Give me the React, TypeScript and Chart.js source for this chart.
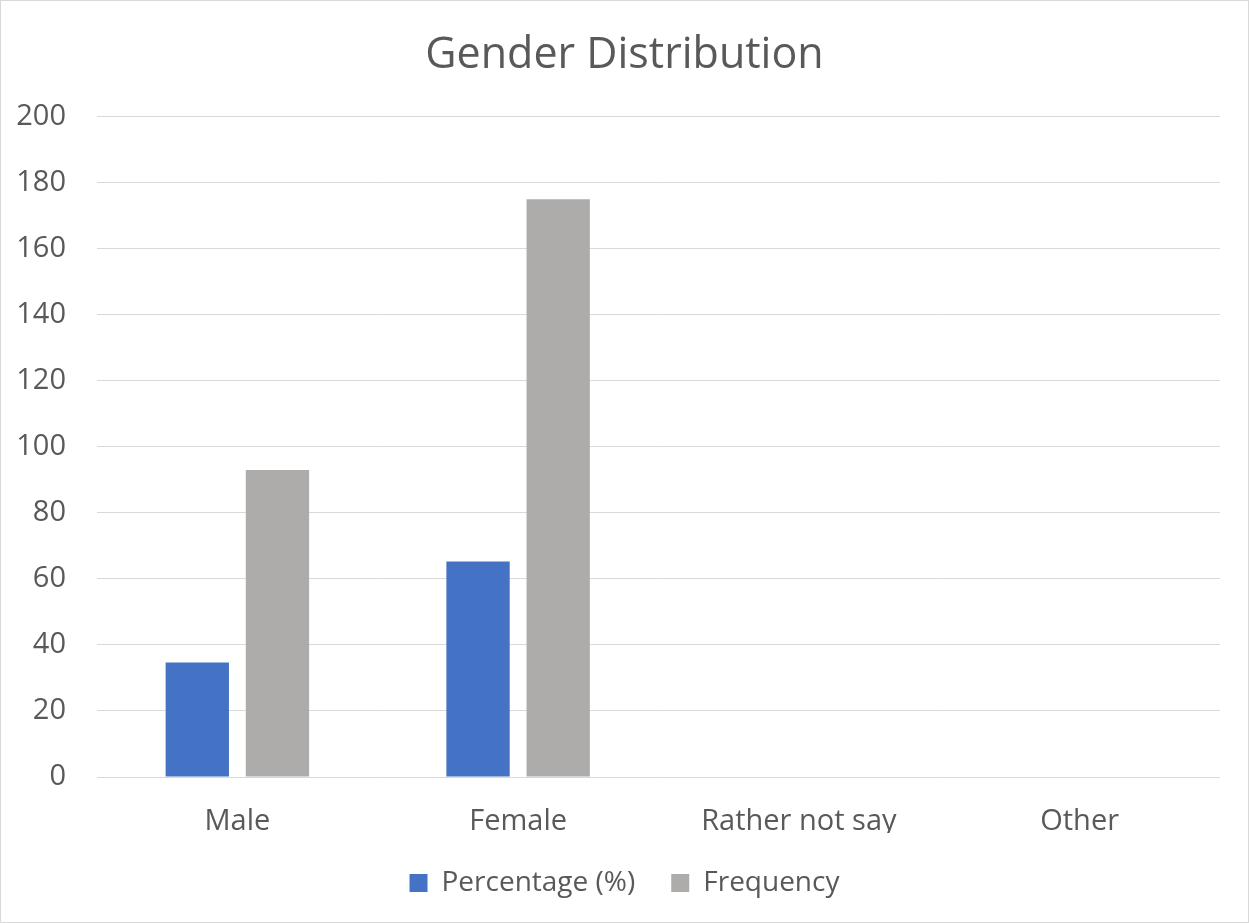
import React, { useEffect, useRef } from "react";
import { Chart, registerables } from "chart.js";

Chart.register(...registerables);

const categories = ["Male", "Female", "Rather not say", "Other"];
const percentageValues = [34.7, 65.3, 0, 0];
const frequencyValues = [93, 175, 0, 0];
const yTicks = [0, 20, 40, 60, 80, 100, 120, 140, 160, 180, 200];

const TEXT = "#595959";
const GRID = "#d9d9d9";
const FONT = "'Open Sans', 'Noto Sans', sans-serif";

export default function App() {
  const canvasRef = useRef<HTMLCanvasElement | null>(null);

  useEffect(() => {
    document.body.style.margin = "0";
    const canvas = canvasRef.current;
    if (!canvas) return;
    const chart = new Chart(canvas, {
      type: "bar",
      data: {
        labels: categories,
        datasets: [
          {
            label: "Percentage (%)",
            data: percentageValues,
            backgroundColor: "#4472c4",
            categoryPercentage: 0.571,
            barPercentage: 0.79,
          },
          {
            label: "Frequency",
            data: frequencyValues,
            backgroundColor: "#aeabab",
            categoryPercentage: 0.571,
            barPercentage: 0.79,
          },
        ],
      },
      options: {
        responsive: false,
        animation: false,
        layout: { padding: { left: 0, right: 0, top: 0, bottom: 15 } },
        plugins: {
          title: {
            display: true,
            text: "Gender Distribution",
            color: TEXT,
            font: { family: FONT, size: 43, weight: "normal" },
            padding: { top: 29, bottom: 35 },
          },
          legend: {
            position: "bottom",
            labels: {
              color: TEXT,
              font: { family: FONT, size: 28 },
              boxWidth: 18,
              boxHeight: 18,
              padding: 36,
            },
          },
          tooltip: { enabled: false },
        },
        scales: {
          x: {
            grid: { display: false, drawTicks: false },
            border: { display: false },
            afterFit: (scale: any) => {
              scale.height = 56;
            },
            ticks: {
              color: TEXT,
              font: { family: FONT, size: 29 },
              padding: 27,
              maxRotation: 0,
            },
          },
          y: {
            min: 0,
            max: 200,
            afterBuildTicks: (scale: any) => {
              scale.ticks = yTicks.map((v) => ({ value: v }));
            },
            afterFit: (scale: any) => {
              scale.width = 96;
            },
            grid: { color: GRID, lineWidth: 1, drawTicks: false },
            border: { display: false },
            ticks: {
              color: TEXT,
              font: { family: FONT, size: 29 },
              padding: 31,
            },
          },
          // blank right-hand margin so the plot and the centred title line up
          yRight: {
            type: "linear",
            position: "right",
            min: 0,
            max: 200,
            grid: { display: false, drawTicks: false },
            border: { display: false },
            ticks: { display: false },
            afterFit: (scale: any) => {
              scale.width = 28;
            },
          },
        },
      },
    });
    return () => chart.destroy();
  }, []);

  return (
    <div
      style={{
        position: "absolute",
        left: 0,
        top: 0,
        width: 1249,
        height: 923,
        boxSizing: "border-box",
        border: `1px solid ${GRID}`,
        background: "#fff",
      }}
    >
      <canvas ref={canvasRef} width={1247} height={921} style={{ display: "block" }} />
    </div>
  );
}
